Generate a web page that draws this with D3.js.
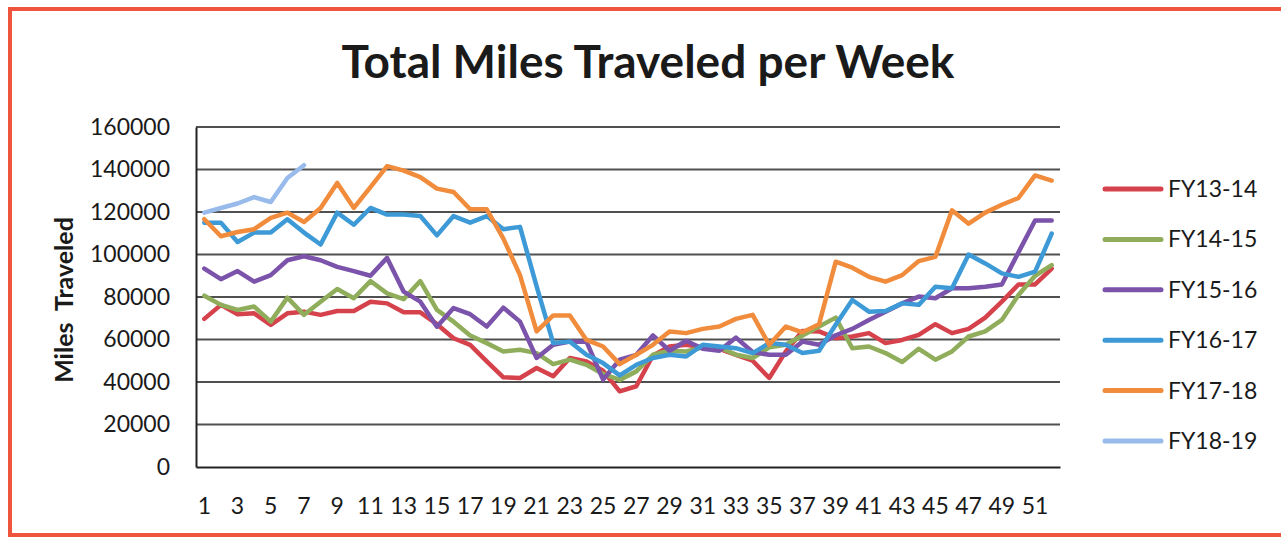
<!DOCTYPE html>
<html>
<head>
<meta charset="utf-8">
<script src="https://cdn.jsdelivr.net/npm/d3@7"></script>
<style>
  html, body { margin: 0; padding: 0; background: #fff; }
  svg { display: block; font-family: Lato, "Open Sans", sans-serif; }
</style>
</head>
<body>
<div id="chart"></div>
<script>
// week numbers on the category axis
var weeks = [1, 2, 3, 4, 5, 6, 7, 8, 9, 10, 11, 12, 13, 14, 15, 16, 17, 18, 19, 20,
    21, 22, 23, 24, 25, 26, 27, 28, 29, 30, 31, 32, 33, 34, 35, 36, 37, 38, 39, 40,
    41, 42, 43, 44, 45, 46, 47, 48, 49, 50, 51, 52];

var fy1314 = [69700, 76300, 71900, 72300, 66900, 72300, 73100, 71600, 73400, 73400,
    77800, 77000, 72800, 72800, 67200, 60600, 57500, 49700, 42200, 41900,
    46600, 42700, 51300, 49700, 45300, 35600, 38000, 52500, 56700, 57500,
    56300, 55600, 52800, 50000, 41900, 54400, 64000, 63800, 60600, 61400,
    63000, 58300, 59800, 62200, 67200, 63000, 65000, 70300, 77800, 85900,
    85900, 93400];
var fy1415 = [80600, 76300, 73900, 75500, 68400, 79700, 71600, 77800, 83800, 79400,
    87500, 81700, 79000, 87500, 73900, 68400, 61900, 58300, 54400, 55200,
    53600, 48400, 50500, 48100, 43800, 41000, 45000, 52800, 54700, 54400,
    56300, 56300, 52800, 51300, 56300, 57500, 61900, 66100, 70300, 55900,
    56700, 53600, 49400, 55600, 50500, 54400, 61400, 63800, 69200, 80900,
    90000, 95000];
var fy1516 = [93400, 88400, 92200, 87200, 90300, 97300, 99200, 97300, 94200, 92200,
    90000, 98400, 82500, 77800, 66000, 74800, 71900, 66100, 75000, 68400,
    51300, 57500, 59000, 59000, 41100, 50500, 52800, 61900, 54700, 59400,
    55600, 54700, 60900, 54100, 52800, 52800, 59000, 57500, 62000, 65000,
    69200, 73100, 77000, 80200, 79400, 84100, 84100, 84800, 85900, 101000,
    116000, 116000];
var fy1617 = [115000, 115000, 105900, 110300, 110300, 116600, 110300, 104700, 119700, 114000,
    121900, 118800, 118800, 118100, 109000, 118100, 115000, 118100, 111900, 113000,
    85000, 58300, 59000, 52800, 48900, 43100, 48100, 51300, 52800, 52000,
    57500, 56700, 55900, 53600, 58300, 57500, 53600, 54700, 66900, 78600,
    73100, 73400, 77000, 76300, 84800, 84100, 100000, 95800, 91100, 89500,
    91900, 109800];
var fy1718 = [116600, 108600, 110600, 111900, 117200, 119700, 115300, 121900, 133700, 121900,
    131700, 141600, 139500, 136400, 131000, 129400, 121300, 121300, 107500, 90300,
    63800, 71300, 71300, 59800, 56700, 48400, 52800, 57500, 63800, 63000,
    65000, 66100, 69700, 71600, 57500, 66100, 63400, 67200, 96600, 93800,
    89500, 87200, 90300, 96900, 98900, 120800, 114500, 119700, 123400, 126600,
    137200, 134800];
var fy1819 = [119700, 121900, 124000, 127000, 124700, 136000, 142000];

var seriesNames = ['FY13-14', 'FY14-15', 'FY15-16', 'FY16-17', 'FY17-18', 'FY18-19'];
var seriesColors = ['#d6424c', '#8fad5a', '#7b53aa', '#3d9ad6', '#f08c3c', '#98bbec'];
var yTicks = [0, 20000, 40000, 60000, 80000, 100000, 120000, 140000, 160000];

var series = [fy1314, fy1415, fy1516, fy1617, fy1718, fy1819];

function drawChart() {
    var width = 1281,
        height = 537;

    var plotLeft = 196, plotRight = 1060, plotTop = 127, plotBottom = 467;

    var svg = d3.select('#chart')
        .append('svg')
            .attr('width', width)
            .attr('height', height);

    svg.append('rect')
        .attr('width', width)
        .attr('height', height)
        .attr('fill', '#fff');

    // scanned page border
    svg.append('rect')
        .attr('x', 10)
        .attr('y', 9)
        .attr('width', 1290)
        .attr('height', 526)
        .attr('fill', 'none')
        .attr('stroke', '#ef553c')
        .attr('stroke-width', 4);

    svg.append('text')
        .attr('x', 648)
        .attr('y', 78)
        .attr('text-anchor', 'middle')
        .attr('font-size', 46)
        .attr('font-weight', 'bold')
        .attr('fill', '#1a1a1a')
        .text('Total Miles Traveled per Week');

    var x = d3.scaleBand()
        .domain(weeks)
        .range([plotLeft, plotRight]);

    var y = d3.scaleLinear()
        .domain([0, 160000])
        .range([plotBottom, plotTop]);

    // gridlines
    svg.append('g')
        .selectAll('line')
        .data(yTicks.slice(1))
        .join('line')
            .attr('x1', plotLeft)
            .attr('x2', plotRight)
            .attr('y1', function(d) { return y(d); })
            .attr('y2', function(d) { return y(d); })
            .attr('stroke', '#505050')
            .attr('stroke-width', 2);

    var yAxis = svg.append('g')
        .attr('transform', 'translate(' + plotLeft + ',0)')
        .call(d3.axisLeft(y).tickValues(yTicks).tickSize(0).tickPadding(26).tickFormat(d3.format('d')));
    yAxis.select('.domain').attr('stroke', '#222').attr('stroke-width', 2);
    yAxis.selectAll('text')
        .attr('font-size', 23)
        .attr('font-family', 'Lato, sans-serif')
        .attr('fill', '#1a1a1a');

    var xAxis = svg.append('g')
        .attr('transform', 'translate(0,' + plotBottom + ')')
        .call(d3.axisBottom(x)
            .tickValues(weeks.filter(function(d) { return d % 2 == 1; }))
            .tickSize(0)
            .tickPadding(31));
    xAxis.select('.domain').attr('stroke', '#222').attr('stroke-width', 2);
    xAxis.selectAll('text')
        .attr('font-size', 23)
        .attr('font-family', 'Lato, sans-serif')
        .attr('fill', '#1a1a1a');

    svg.append('text')
        .attr('transform', 'translate(73,300) rotate(-90)')
        .attr('text-anchor', 'middle')
        .attr('font-size', 25)
        .attr('font-weight', 'bold')
        .attr('fill', '#1a1a1a')
        .style('white-space', 'pre')
        .text('Miles  Traveled');

    var line = d3.line()
        .x(function(d, i) { return x(weeks[i]) + x.bandwidth() / 2; })
        .y(function(d) { return y(d); });

    svg.append('g')
        .selectAll('path')
        .data(series)
        .join('path')
            .attr('d', line)
            .attr('fill', 'none')
            .attr('stroke', function(d, i) { return seriesColors[i]; })
            .attr('stroke-width', 4.5)
            .attr('stroke-linejoin', 'round')
            .attr('stroke-linecap', 'round');

    // legend
    var legend = svg.append('g')
        .selectAll('g')
        .data(seriesNames)
        .join('g')
            .attr('transform', function(d, i) { return 'translate(1105,' + (189 + i * 50.4) + ')'; });

    legend.append('line')
        .attr('x1', 0)
        .attr('x2', 56)
        .attr('stroke', function(d, i) { return seriesColors[i]; })
        .attr('stroke-width', 5)
        .attr('stroke-linecap', 'round');

    legend.append('text')
        .attr('x', 63)
        .attr('dy', '0.35em')
        .attr('font-size', 23)
        .attr('fill', '#1a1a1a')
        .text(function(d) { return d; });
}

drawChart();
</script>
</body>
</html>
